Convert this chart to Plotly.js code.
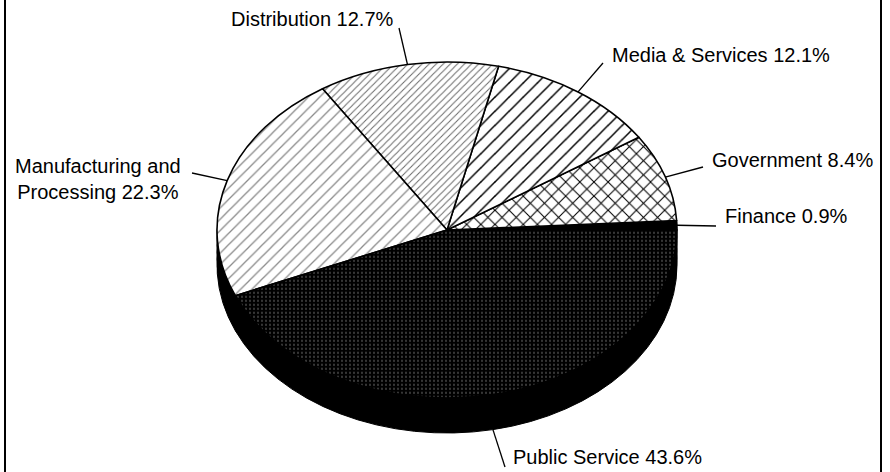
<!DOCTYPE html>
<html><head><meta charset="utf-8">
<script src="https://cdn.plot.ly/plotly-3.0.1.min.js"></script>
<style>
html,body{margin:0;padding:0;overflow:hidden;background:#fff;}
#wrap{width:890px;height:472px;overflow:hidden;position:relative;}
#chart{width:890px;height:600px;}
.pielayer path.surface{vector-effect:non-scaling-stroke;}
</style></head><body>
<div id="wrap"><div id="chart"></div></div>
<script>
// ---- data ----
const categories = ['Finance', 'Government', 'Media & Services', 'Distribution', 'Manufacturing and Processing', 'Public Service'];
const shares = [0.9, 8.4, 12.1, 12.7, 22.3, 43.6];
const labelTexts = ['Finance 0.9%', 'Government 8.4%', 'Media & Services 12.1%', 'Distribution 12.7%', 'Manufacturing and<br>Processing 22.3%', 'Public Service 43.6%'];

// ---- styles ----
const sliceColors = ['#000000', '#ffffff', '#ffffff', '#ffffff', '#ffffff', '#000000'];
const patShapes = ['', 'x', '/', '/', '/', '.'];
const patSizes = [8, 10, 10, 5, 8, 4];
const patSolidity = [0.2, 0.2, 0.15, 0.2, 0.16, 0.07];
const patFg = ['#000000', '#000000', '#000000', '#6a6a6a', '#8a8a8a', '#ffffff'];
const patBg = ['#000000', '#ffffff', '#ffffff', '#ffffff', '#ffffff', '#000000'];

// ---- layout geometry ----
const W = 890, H = 600;
const CX = 447, CY = 230, RX = 230, RY = 168, WALL = 35;
const K = RY / RX;
const YC = 240;                 // unsquished pie centre (px)
const TY = CY - K * YC;
const labelPos = [[723, 216, 'left'], [710, 160, 'left'], [610, 55, 'left'], [229, 19, 'left'], [98, 179, 'center'], [511, 457, 'left']];
const labelTails = [[716, 226], [703, 167], [603, 63], [399, 28], [192, 173], [505, 467]];

const total = shares.reduce((a, b) => a + b, 0);
const rot = 90 - 360 * shares[0] / total;

function pieTrace(dy, top) {
  const t = {
    type: 'pie', values: shares, labels: categories, sort: false,
    direction: 'counterclockwise', rotation: rot, textinfo: 'none',
    hoverinfo: 'skip', showlegend: false,
    domain: {x: [(CX - RX) / W, (CX + RX) / W], y: [1 - (YC + RX + dy) / H, 1 - (YC - RX + dy) / H]}
  };
  if (top) {
    t.marker = {colors: sliceColors, line: {color: '#000', width: 1.6},
      pattern: {shape: patShapes, size: patSizes, solidity: patSolidity, fgcolor: patFg, bgcolor: patBg, fillmode: 'replace'}};
  } else {
    t.marker = {colors: shares.map(() => '#000000'), line: {color: '#000', width: 1}};
  }
  return t;
}

const data = [];
const steps = 5;
for (let j = steps; j >= 1; j--) data.push(pieTrace(j * (WALL / K) / steps, false));
data.push(pieTrace(0, true));

// leader lines from slice mid-angles
let acc = 0;
const lx = [], ly = [];
shares.forEach((v, i) => {
  const m = (acc + v / 2) / total * 2 * Math.PI; acc += v;
  const s = Math.sin(m);
  const tx = CX + RX * Math.cos(m);
  const tyy = CY - RY * s + (s < 0 ? WALL : 0);
  lx.push(labelTails[i][0], tx, null);
  ly.push(labelTails[i][1], tyy, null);
});
data.push({type: 'scatter', mode: 'lines', x: lx, y: ly, line: {color: '#000', width: 1.3}, hoverinfo: 'skip', showlegend: false, cliponaxis: false});

const annotations = labelTexts.map((t, i) => ({
  text: t, x: labelPos[i][0], y: labelPos[i][1], xref: 'x', yref: 'y',
  xanchor: labelPos[i][2], yanchor: 'middle', align: 'center', showarrow: false,
  font: {family: 'Liberation Sans, Arial, sans-serif', size: 20, color: '#000'}
}));

const layout = {
  width: W, height: H, margin: {l: 0, r: 0, t: 0, b: 0},
  paper_bgcolor: '#fff', plot_bgcolor: 'rgba(0,0,0,0)', showlegend: false,
  xaxis: {range: [0, W], visible: false, fixedrange: true},
  yaxis: {range: [H, 0], visible: false, fixedrange: true},
  annotations: annotations,
  shapes: [
    {type: 'line', xref: 'x', yref: 'y', x0: 5, x1: 5, y0: 0, y1: 472, line: {color: '#000', width: 2}},
    {type: 'line', xref: 'x', yref: 'y', x0: 881, x1: 881, y0: 0, y1: 472, line: {color: '#000', width: 2}}
  ]
};

Plotly.newPlot('chart', data, layout, {staticPlot: true}).then(gd => {
  const pl = gd.querySelector('.pielayer');
  if (pl) pl.setAttribute('transform', 'translate(0,' + TY + ') scale(1,' + K + ')');
  gd.querySelectorAll('pattern').forEach(p => p.setAttribute('patternTransform', 'scale(1,' + (1 / K) + ')'));
});
</script>
</body></html>
